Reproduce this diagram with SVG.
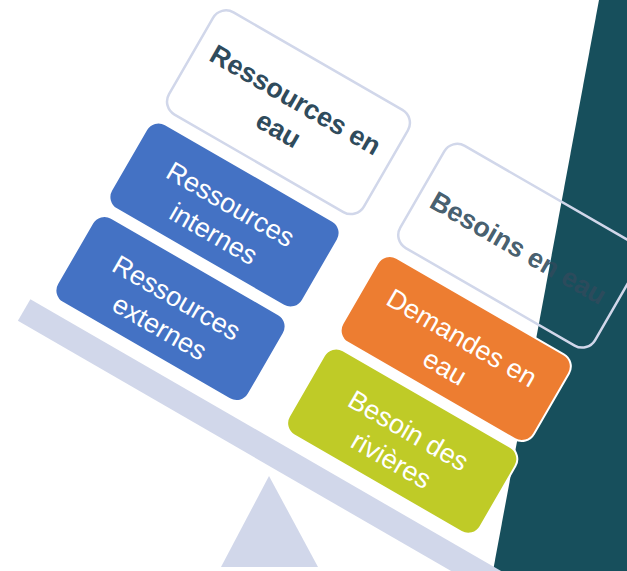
<svg xmlns="http://www.w3.org/2000/svg" width="627" height="571" viewBox="0 0 627 571">
<style>
.t{font-family:"Liberation Sans",Arial,sans-serif;font-size:27px;text-anchor:middle}
.tw{fill:#ffffff}
.tb{fill:#2F4B5C;font-weight:bold}
.wb{fill:#ffffff;fill-opacity:0;stroke:#D1D7EA;stroke-width:2.5}
.cb{stroke:#ffffff;stroke-width:2}
</style>
<rect x="0" y="0" width="627" height="571" fill="#ffffff"/>
<polygon id="bg" points="599,0 627,0 627,571 493,571" fill="#174F5C"/>
<g id="connectors">
<g transform="translate(224.5,215) rotate(30)">
<rect id="beam" x="-126" y="170" width="800" height="25" fill="#D1D7EA"/>
</g>
<polygon id="fulcrum" points="269,476 221,567 318,567" fill="#D1D7EA"/>
</g>
<g transform="translate(224.5,215) rotate(30)">
<g id="res">
<rect class="wb" x="-108.5" y="-180" width="225" height="118" rx="15"/>
<text class="t tb" x="4" y="-126">Ressources en</text>
<text class="t tb" x="4" y="-92">eau</text>
</g>
<g id="bes">
<rect class="wb" x="158.5" y="-180" width="225" height="118" rx="15"/>
<text class="t tb" x="271" y="-109" fill-opacity="0.9">Besoins en eau</text>
</g>
<g id="int">
<rect class="cb" x="-110.5" y="-49" width="221" height="98" rx="14" fill="#4472C4"/>
<text class="t tw" x="0" y="-3">Ressources</text>
<text class="t tw" x="0" y="31">internes</text>
</g>
<g id="ext">
<rect class="cb" x="-110.5" y="59" width="221" height="98" rx="14" fill="#4472C4"/>
<text class="t tw" x="0" y="105">Ressources</text>
<text class="t tw" x="0" y="139">externes</text>
</g>
<g id="dem">
<rect class="cb" x="156.5" y="-49" width="221" height="98" rx="14" fill="#ED7D31"/>
<text class="t tw" x="267" y="-3">Demandes en</text>
<text class="t tw" x="267" y="31">eau</text>
</g>
<g id="riv">
<rect class="cb" x="156.5" y="58" width="221" height="98" rx="14" fill="#BFCB27"/>
<text class="t tw" x="267" y="104">Besoin des</text>
<text class="t tw" x="267" y="138">rivières</text>
</g>
</g>
</svg>
